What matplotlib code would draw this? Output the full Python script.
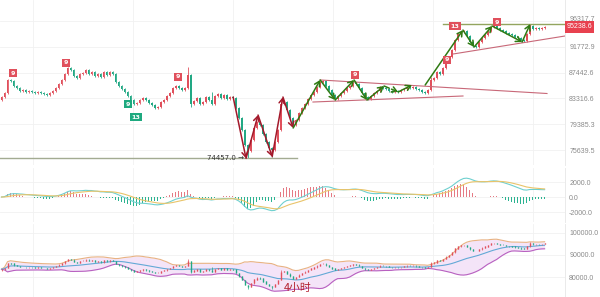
import matplotlib
matplotlib.use('Agg')
import numpy as np
import pandas as pd
import matplotlib.pyplot as plt
from matplotlib.transforms import blended_transform_factory, ScaledTranslation

# 4h closes
closes = [83530, 84160, 86240, 86100, 85270, 84950, 84480, 84630, 84320, 84480,
          84320, 84160, 84320, 84160, 84000, 83850, 84160, 84480, 84950, 85590,
          86240, 87210, 88190, 87860, 86880, 86560, 87210, 87370, 87860, 87210,
          87540, 86880, 87210, 86720, 87540, 87050, 87540, 87210, 85910, 85270,
          84790, 84320, 83690, 83060, 82440, 82600, 83060, 83380, 83060, 82600,
          82290, 81830, 81980, 82750, 83060, 83690, 84160, 84950, 85270, 84950,
          84630, 84950, 87050, 82440, 82910, 83380, 82440, 82750, 83530, 83060,
          82440, 83690, 84000, 83380, 83850, 83220, 83530, 83380, 81830, 80310,
          78530, 76350, 75500, 77070, 78820, 79710, 79270, 77940, 76780, 75920,
          75640, 76780, 78530, 82440, 82750, 81530, 80310, 79270, 80010, 81070,
          81830, 82440, 83220, 83850, 84320, 85110, 85910, 86070, 85270, 84630,
          83850, 83220, 83690, 84160, 84480, 84950, 85270, 85750, 85590, 84950,
          84160, 83530, 83220, 83690, 84160, 84480, 85110, 84950, 84790, 84480,
          84320, 84480, 84320, 84630, 84790, 85110, 84950, 85110, 84790, 84630,
          84320, 84160, 84630, 86240, 86560, 87540, 87210, 88190, 89190, 90030,
          91210, 92940, 93990, 94340, 94520, 93640, 92590, 91900, 91730, 92590,
          93290, 93820, 94520, 95230, 95410, 95050, 94690, 94520, 94170, 93990,
          93820, 93460, 93290, 92940, 92770, 93990, 95410, 94870, 95050, 94870,
          95050, 95238.6]
first_open = 83000
high_override = {62: 88360, 70: 84320, 93: 83060, 143: 86700, 176: 95760}
low_override = {82: 74457, 90: 74700, 63: 81990}

last_price = 95238.6
low_price = 74457.0
top_level = 95765

main_ticks = [75639.5, 79385.3, 83316.6, 87442.6, 91772.9, 96317.7]
macd_ticks = [-2000, 0, 2000]
bb_ticks = [80000, 90000, 100000]

# swing arrows (candle index, price)
red_px = [77.2, 81.5, 85.5, 90.2, 93.8, 97.2]
red_py = [83530, 74457, 80760, 74700, 83530, 78820]
g1_px = [97.2, 106.2, 111.2, 117.5, 121.8, 127.5, 132.2, 136.8]
g1_py = [78820, 86240, 83060, 86240, 83060, 85270, 84320, 85430]
g2_px = [141.2, 153.8, 157.5, 163.5, 173.5, 176.2]
g2_py = [85430, 94690, 91730, 95410, 92590, 95760]

# trend lines
trend_lines = [([106.2, 181.8], [86240, 84080]),
               ([103.8, 153.8], [82750, 83690]),
               ([150.5, 187.8], [90535, 93640])]

# TD sequence marks (index, price, text, colour key)
td_marks = [(3.8, 87370, '9', 'r'), (21.5, 89030, '9', 'r'), (58.8, 86720, '9', 'r'),
            (117.8, 87046, '9', 'r'), (148.5, 89526, '9', 'r'), (165.2, 96122, '9', 'r'),
            (151.2, 95408, '13', 'r'), (42.2, 82444, '9', 'g'), (44.8, 80461, '13', 'g')]

UP = '#e0505c'
DN = '#22a884'
GRID = '#f1f1f1'
TICK = '#8a8a8a'

c = np.array(closes, dtype=float)
n = len(c)
o = np.concatenate([[first_open], c[:-1]])
hi = np.maximum(o, c) * 1.0015
lo = np.minimum(o, c) * 0.9985
for k, v in high_override.items():
    hi[k] = v
for k, v in low_override.items():
    lo[k] = v
idx = np.arange(n)
up = c >= o
cols = np.where(up, UP, DN)

s = pd.Series(c)
dif = s.ewm(span=12, adjust=False).mean() - s.ewm(span=26, adjust=False).mean()
dea = dif.ewm(span=9, adjust=False).mean()
hist = 2 * (dif - dea)
mid = s.rolling(20, min_periods=1).mean()
sd = s.rolling(20, min_periods=1).std(ddof=0)
ub = mid + 2 * sd
lb = mid - 2 * sd

fig = plt.figure(figsize=(6, 2.97), dpi=100)
W, H = 600, 297
def box(top, bottom):
    return [0, (H - bottom) / H, 565 / W, (bottom - top) / H]

ax = fig.add_axes(box(0, 165))
axm = fig.add_axes(box(168, 222))
axb = fig.add_axes(box(224, 297))
xlim = (-0.5, 187.8)
vgrid = [10.5, 43.8, 77.2, 110.5, 143.8, 177.2]

for a in (ax, axm, axb):
    a.set_xlim(*xlim)
    a.yaxis.tick_right()
    a.tick_params(axis='y', length=0, pad=3, labelsize=5, labelcolor=TICK)
    a.tick_params(axis='x', length=0, labelbottom=False)
    for sp in a.spines.values():
        sp.set_visible(False)
    a.spines['right'].set_visible(True)
    a.spines['right'].set_color('#e6e6e6')
    a.spines['right'].set_linewidth(0.6)
    a.set_xticks(vgrid)
    a.grid(True, color=GRID, lw=0.6)
    a.set_axisbelow(True)

# main panel
ax.set_yscale('log')
ax.set_ylim(73545, 100169)
ax.set_yticks(main_ticks)
ax.set_yticklabels(['%.1f' % t for t in main_ticks], family='Liberation Sans')
ax.minorticks_off()
top_lab = ax.get_yticklabels()[-1]
top_lab.set_transform(top_lab.get_transform() + ScaledTranslation(0, 2 / 72, fig.dpi_scale_trans))
ax.vlines(idx, lo, hi, color=cols, lw=0.6)
ax.bar(idx, np.abs(c - o) + c * 0.0006, bottom=np.minimum(o, c), width=0.65, color=cols, lw=0)

ax.plot([-0.5, 98.5], [low_price, low_price], color='#a3ab92', lw=1.0)
ax.plot([147.2, xlim[1]], [top_level, top_level], color='#93a55e', lw=1.0)
ax.text(80.8, low_price, '%.1f →' % low_price, ha='right', va='center', fontsize=5,
        color='#333333', family='DejaVu Sans')
for xs, ys in trend_lines:
    ax.plot(xs, ys, color='#c86878', lw=0.8)

def chain(px, py, color, dashed=()):
    for k in range(len(px) - 1):
        ax.annotate('', xy=(px[k + 1], py[k + 1]), xytext=(px[k], py[k]),
                    arrowprops=dict(arrowstyle='->,head_length=0.35,head_width=0.2',
                                    color=color, lw=1.1, shrinkA=0, shrinkB=0,
                                    linestyle='--' if k in dashed else '-'))

chain(red_px, red_py, '#a3192b')
chain(g1_px, g1_py, '#2f7a12', dashed=(5,))
chain(g2_px, g2_py, '#2f7a12')

for x, y, t, k in td_marks:
    ax.text(x, y, t, ha='center', va='center', fontsize=4.6, color='white', weight='bold',
            bbox=dict(boxstyle='square,pad=0.25', fc=UP if k == 'r' else '#1ea97f', ec='none'))

tr = blended_transform_factory(ax.transAxes, ax.transData)
ax.text(1.003, last_price, '%.1f' % last_price, transform=tr, ha='left', va='center',
        fontsize=5, color='white', family='Liberation Sans',
        bbox=dict(boxstyle='square,pad=0.3', fc='#e8414f', ec='none'))

# MACD panel
axm.set_ylim(-3333, 3867)
axm.set_yticks(macd_ticks)
axm.set_yticklabels(['%.1f' % t for t in macd_ticks], family='Liberation Sans')
axm.bar(idx, hist, width=0.5, color=np.where(hist >= 0, '#e57a84', '#2bb391'), lw=0)
axm.plot(idx, dif, color='#6fd0cf', lw=0.8)
axm.plot(idx, dea, color='#e9c46a', lw=0.8)

# Bollinger panel
axb.set_ylim(70910, 104090)
axb.set_yticks(bb_ticks)
axb.set_yticklabels(['%.1f' % t for t in bb_ticks], family='Liberation Sans')
axb.fill_between(idx, lb, ub, color='#f4e4f8', lw=0)
axb.plot(idx, ub, color='#e8b283', lw=0.8)
axb.plot(idx, lb, color='#b861c0', lw=0.8)
axb.plot(idx, mid, color='#63a9d6', lw=0.8)
axb.vlines(idx, lo, hi, color=cols, lw=0.5)
axb.vlines(idx, np.minimum(o, c), np.maximum(o, c) + 60, color=cols, lw=1.0)
axb.text(94.0, 75200, '4小时', fontsize=7.8, color='#b3212f', ha='left', va='center',
         family=['Noto Sans CJK SC', 'DejaVu Sans'])

fig.savefig('out.png', dpi=100)
